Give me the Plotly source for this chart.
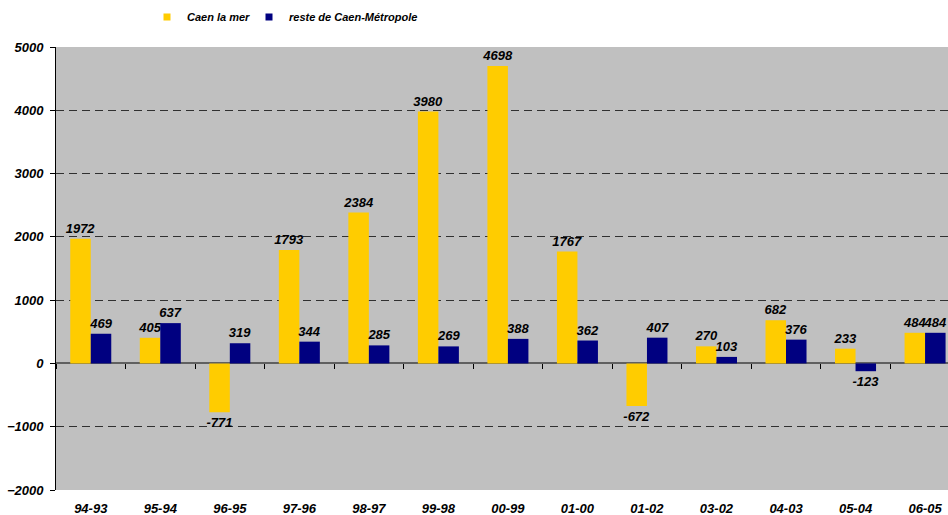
import plotly.graph_objects as go

categories = ["94-93", "95-94", "96-95", "97-96", "98-97", "99-98", "00-99",
              "01-00", "01-02", "03-02", "04-03", "05-04", "06-05"]
caen_la_mer = [1972, 405, -771, 1793, 2384, 3980, 4698, 1767, -672, 270, 682, 233, 484]
reste_metropole = [469, 637, 319, 344, 285, 269, 388, 362, 407, 103, 376, -123, 484]
series_names = ["Caen la mer", "reste de Caen-Métropole"]
series_colors = ["#FFCC00", "#000080"]

FONT = "Liberation Sans, Arial, sans-serif"
lab_font = dict(family=FONT, size=13, color="black", weight="bold", style="italic")

fig = go.Figure()
for vals, name, col in zip([caen_la_mer, reste_metropole], series_names, series_colors):
    fig.add_trace(go.Bar(
        x=categories, y=vals, name=name, showlegend=False,
        marker=dict(color=col, line=dict(width=0)),
        text=[str(v) for v in vals], textposition="outside",
        textfont=lab_font, constraintext="none", cliponaxis=False,
    ))
# legend entries with small square swatches
for i, (name, col) in enumerate(zip(series_names, series_colors)):
    fig.add_trace(go.Scatter(
        x=[categories[0]], y=[None], name=name, mode="markers",
        marker=dict(symbol="square", size=7, color=col),
        legend="legend" if i == 0 else "legend2", hoverinfo="skip",
    ))
# invisible trace to carry the tick axis placed at zero
fig.add_trace(go.Scatter(x=categories, y=[None] * len(categories), xaxis="x2",
                         showlegend=False, hoverinfo="skip", mode="markers"))

leg_common = dict(orientation="h", xref="container", yref="container",
                  xanchor="left", yanchor="middle", y=1 - 17 / 515,
                  font=dict(family=FONT, size=11, weight="bold", style="italic"),
                  itemwidth=30, bgcolor="rgba(0,0,0,0)")

x_range = [-0.5, 12.33]

fig.update_layout(
    width=948, height=515,
    margin=dict(l=56, r=0, t=47, b=25, autoexpand=False),
    paper_bgcolor="white", plot_bgcolor="#C0C0C0",
    barmode="group", bargap=0.41, bargroupgap=0,
    font=dict(family=FONT, color="black"),
    legend=dict(x=147 / 948, **leg_common),
    legend2=dict(x=249 / 948, **leg_common),
    xaxis=dict(type="category", categoryorder="array", categoryarray=categories,
               range=x_range, autorange=False,
               showgrid=False, zeroline=False, showline=False, ticks="",
               tickfont=dict(family=FONT, size=13, weight="bold", style="italic"),
               ticklabelstandoff=9),
    xaxis2=dict(type="category", categoryorder="array", categoryarray=categories,
                matches="x", overlaying="x", anchor="free", position=2 / 7,
                range=x_range, autorange=False,
                showticklabels=False, ticks="outside", ticklen=5, tickcolor="black",
                tickwidth=1, tickson="boundaries", showgrid=False, zeroline=False,
                showline=False),
    yaxis=dict(range=[-2000, 5000], dtick=1000, tickformat="d",
               showgrid=True, gridcolor="#303030", griddash="8px,5px", gridwidth=1,
               zeroline=True, zerolinecolor="#606060", zerolinewidth=2,
               showline=True, linecolor="black", linewidth=1,
               ticks="outside", ticklen=5, tickcolor="black", ticklabelstandoff=4,
               tickfont=dict(family=FONT, size=13, weight="bold", style="italic")),
)

fig.write_html("out.html", config={"displayModeBar": False},
               post_script="document.body.style.margin='0';document.body.style.padding='0';")
